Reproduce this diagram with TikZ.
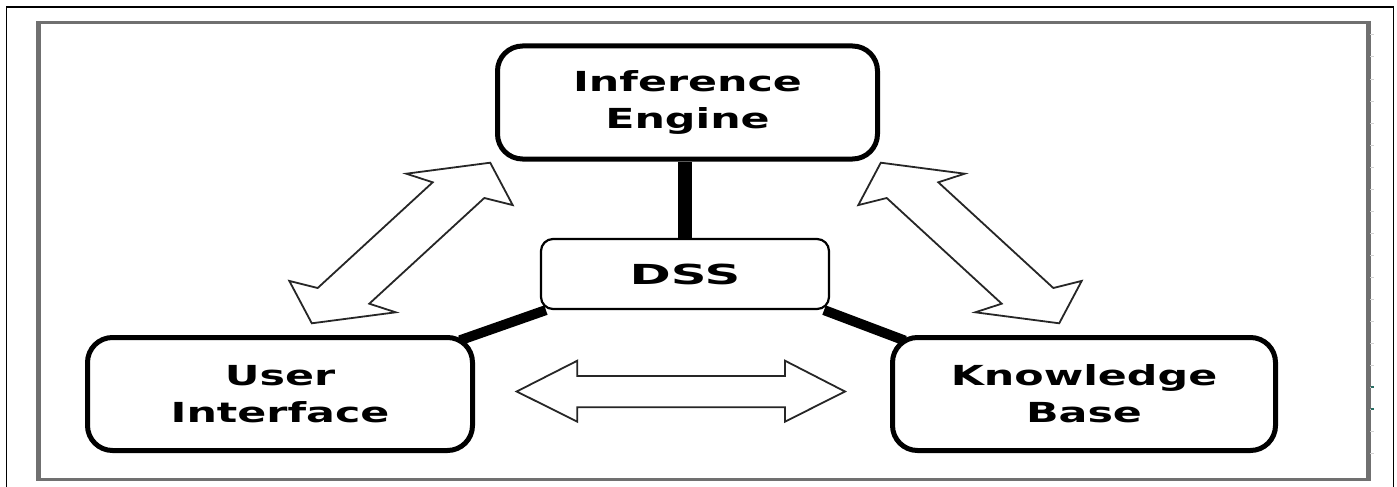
\documentclass[tikz,border=0pt]{standalone}
\usepackage{fontspec}
\newfontfamily\boxfont[FakeStretch=1.55]{DejaVu Sans}
\newfontfamily\dssfont[FakeStretch=1.8]{DejaVu Sans}
\usetikzlibrary{backgrounds,calc}
\pgfdeclarelayer{bottom}
\pgfdeclarelayer{background}
\pgfsetlayers{bottom,background,main}
\definecolor{framegray}{RGB}{112,112,112}
\definecolor{tickteal}{RGB}{40,110,100}
\begin{document}
\begin{tikzpicture}[x=1pt,y=-1pt,
  mainbox/.style={draw, line width=5pt, rounded corners=25pt, fill=white,
    minimum height=113pt, align=center, inner sep=0pt,
    font=\boxfont\bfseries\fontsize{27.6}{37}\selectfont},
  dssbox/.style={draw, line width=2.2pt, rounded corners=12pt, fill=white,
    minimum width=288pt, minimum height=70pt, inner sep=0pt,
    font=\dssfont\bfseries\fontsize{27.6}{37}\selectfont},
  hollow/.style={draw=black!85, line width=1.8pt, fill=white, line join=miter},
  bar/.style={line width=10pt, black, shorten >=-16pt},
  vbar/.style={line width=14pt, black}]
\useasboundingbox (0,0) rectangle (1397,487);
\begin{pgfonlayer}{bottom}
\fill[white] (0,0) rectangle (1397,487);
\end{pgfonlayer}
\clip (0,0) rectangle (1397,487);
% outer border and frame
\draw[line width=1.5pt] (6.5,500) -- (6.5,7) -- (1393.3,7) -- (1393.3,500);
\draw[framegray, line width=3pt] (38.5,22.5) rectangle (1368,479.5);
\draw[framegray, line width=5pt] (38.5,21) -- (38.5,481) (1368,21) -- (1368,481);
\foreach \k in {0,...,19} \draw[gray!35, line width=1pt] (1370,35+22*\k) -- (1374,35+22*\k);
\draw[tickteal, line width=1.5pt] (1371,387) -- (1374,387) (1371,409) -- (1374,409);
% nodes
\node[mainbox, minimum width=380pt] (ie) at (687.5,102.5) {Inference\\Engine};
\node[mainbox, minimum width=385pt] (ui) at (280,394) {User\\Interface};
\node[mainbox, minimum width=383pt] (kb) at (1084,394) {Knowledge\\Base};
\node[dssbox] (dss) at (685,274) {DSS};
% connectors
\begin{pgfonlayer}{background}
\draw[vbar] (dss.north) -- (dss.north |- ie.south);
\draw[bar] ([xshift=6pt]dss.south west) -- (ui.north east);
\draw[bar] ([xshift=-6pt]dss.south east) -- (kb.north west);
\end{pgfonlayer}
% hollow double arrows
\draw[hollow] (490.2,162.7) -- (512.7,205.1) -- (484.3,198) -- (369.3,303.7) -- (395.7,312.3)
  -- (311.8,323.3) -- (289.3,280.9) -- (317.7,288) -- (432.7,182.3) -- (406.3,173.7) -- cycle;
\draw[hollow] (880.8,162.7) -- (858.3,205.1) -- (886.7,198) -- (1001.7,303.7) -- (975.3,312.3)
  -- (1059.2,323.3) -- (1081.7,280.9) -- (1053.3,288) -- (938.3,182.3) -- (964.7,173.7) -- cycle;
\draw[hollow] (516.7,391.5) -- (577.3,360.7) -- (577.3,376) -- (785,376) -- (785,360.7)
  -- (845,391.5) -- (785,421.7) -- (785,407.3) -- (577.3,407.3) -- (577.3,421.7) -- cycle;
\end{tikzpicture}
\end{document}
